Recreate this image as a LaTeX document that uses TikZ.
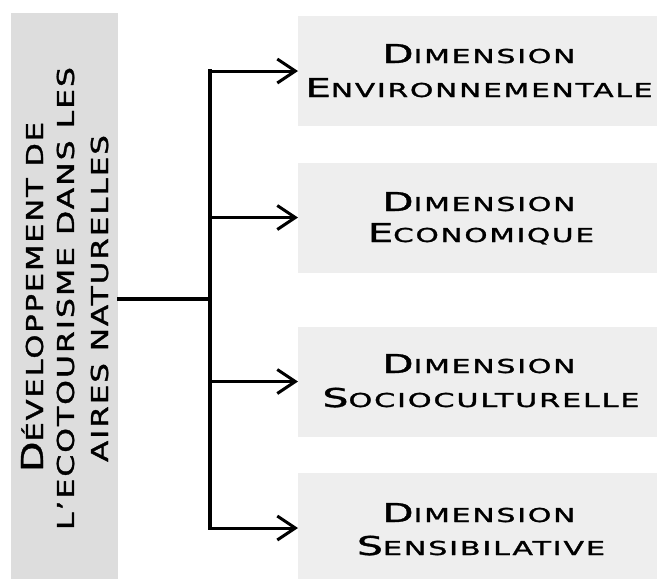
\documentclass[tikz,border=0pt]{standalone}
\usepackage{fontspec}
\usepackage{graphicx}
\setmainfont{DejaVu Sans}
\newfontfamily\wide[LetterSpace=6, FakeBold=1.2]{DejaVu Sans}
\usetikzlibrary{arrows.meta}
\newcommand\Sz[2]{{\fontsize{#1}{#1}\selectfont #2}}
\newcommand\fitto[2]{\resizebox{#1}{\height}{#2}}
\definecolor{mainfill}{RGB}{221,221,221}
\definecolor{boxfill}{RGB}{238,238,238}
\tikzset{
  mainbox/.style={fill=mainfill, draw=none, minimum width=107pt, minimum height=570pt, inner sep=0pt},
  dimbox/.style={fill=boxfill, draw=none, minimum width=359pt, minimum height=110pt, inner sep=0pt},
  lbl/.style={anchor=base, inner sep=0pt, font=\wide},
  vlbl/.style={anchor=base, inner sep=0pt, rotate=90, font=\wide},
  trunk/.style={line width=3.4pt, line cap=rect},
  arr/.style={line width=3pt, -{Straight Barb[length=18pt, width=24pt]}}
}
\begin{document}
\begin{tikzpicture}[x=1pt, y=-1pt]
\useasboundingbox (0,0) rectangle (657,579);
\node[mainbox, anchor=north west] (main) at (11,13) {};
\node[dimbox, anchor=west] (b1) at (298,71) {};
\node[dimbox, anchor=west] (b2) at (298,217.5) {};
\node[dimbox, anchor=west] (b3) at (298,381.5) {};
\node[dimbox, anchor=west] (b4) at (298,528) {};

\node[vlbl] (m1) at (43,297) {\fitto{350pt}{\Sz{30.2}{D}\Sz{23.3}{ÉVELOPPEMENT DE}}};
\node[vlbl] (m2) at (74,298.5) {\fitto{463pt}{\Sz{23.3}{L’ECOTOURISME DANS LES}}};
\node[vlbl] (m3) at (108,298.5) {\fitto{327pt}{\Sz{23.3}{AIRES NATURELLES}}};

\node[lbl] (t1a) at (479,63) {\fitto{193pt}{\Sz{26}{D}\Sz{19.2}{IMENSION}}};
\node[lbl] (t1b) at (479,97) {\fitto{347pt}{\Sz{26}{E}\Sz{19.2}{NVIRONNEMENTALE}}};
\node[lbl] (t2a) at (479,211) {\fitto{193pt}{\Sz{26}{D}\Sz{19.2}{IMENSION}}};
\node[lbl] (t2b) at (481,242) {\fitto{226pt}{\Sz{26}{E}\Sz{19.2}{CONOMIQUE}}};
\node[lbl] (t3a) at (479,373) {\fitto{193pt}{\Sz{26}{D}\Sz{19.2}{IMENSION}}};
\node[lbl] (t3b) at (481,407) {\fitto{317pt}{\Sz{26}{S}\Sz{19.2}{OCIOCULTURELLE}}};
\node[lbl] (t4a) at (479,522) {\fitto{193pt}{\Sz{26}{D}\Sz{19.2}{IMENSION}}};
\node[lbl] (t4b) at (481,555) {\fitto{248pt}{\Sz{26}{S}\Sz{19.2}{ENSIBILATIVE}}};

\coordinate (j) at (210,299);
\draw[trunk] (main.east |- j) -- (j);
\draw[trunk] (j |- b1.west) -- (j |- b4.west);
\draw[arr] (j |- b1.west) -- (b1.west);
\draw[arr] (j |- b2.west) -- (b2.west);
\draw[arr] (j |- b3.west) -- (b3.west);
\draw[arr] (j |- b4.west) -- (b4.west);
\end{tikzpicture}
\end{document}
